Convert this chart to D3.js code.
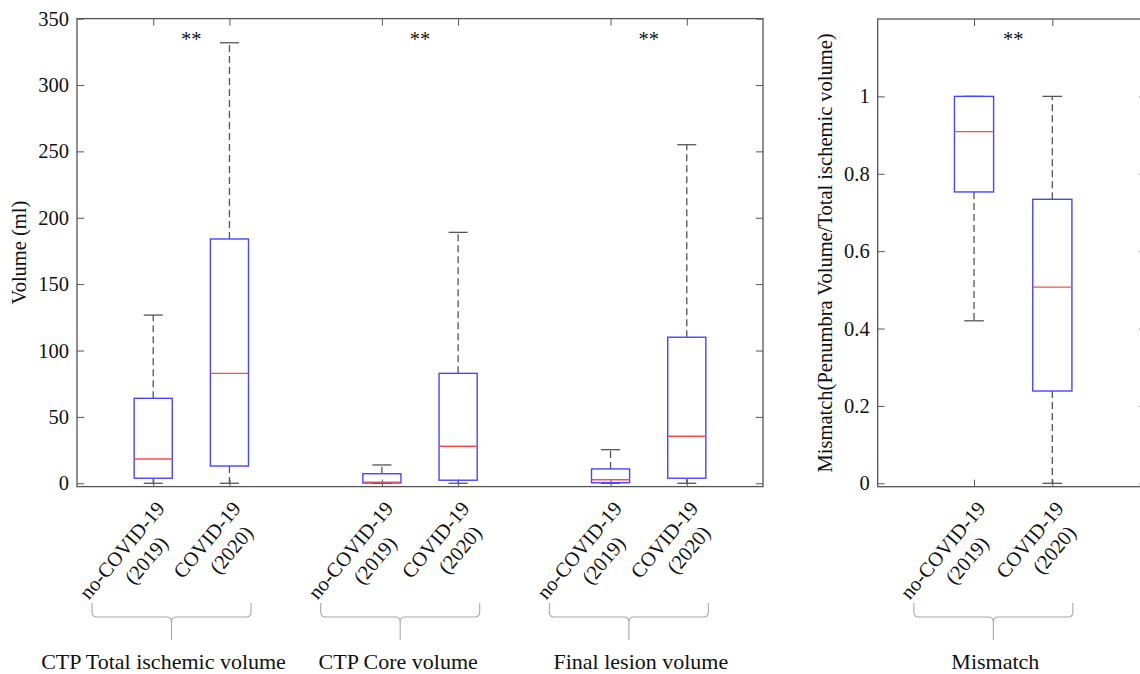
<!DOCTYPE html>
<html>
<head>
<meta charset="utf-8">
<script src="https://cdn.jsdelivr.net/npm/d3@7"></script>
<style>
  body { margin: 0; background: #fff; }
  text { font-family: "Liberation Serif", "Times New Roman", serif; fill: #111; }
</style>
</head>
<body>
<svg id="chart" width="1140" height="674"></svg>
<script>
// data: [lower whisker, q1, median, q3, upper whisker]
const categoryLines = [["no-COVID-19", "(2019)"], ["COVID-19", "(2020)"]];
const volumeGroups = ["CTP Total ischemic volume", "CTP Core volume", "Final lesion volume"];
const ctpTotalStats = [[0, 3.8, 18.3, 64, 126.7], [0, 13, 82.8, 184, 331.8]];
const ctpCoreStats = [[0, 0.2, 0.9, 7.2, 13.8], [0, 2.3, 27.9, 82.8, 189]];
const finalLesionStats = [[0, 0.4, 2.7, 10.8, 25.3], [0, 3.8, 35.4, 110, 255]];
const mismatchGroup = "Mismatch";
const mismatchStats = [[0.42, 0.753, 0.909, 1.0, 1.0], [0, 0.2385, 0.507, 0.734, 1.0]];
const volumeTicks = [0, 50, 100, 150, 200, 250, 300, 350];
const mismatchTicks = [0, 0.2, 0.4, 0.6, 0.8, 1];
const volumeSignificance = ["**", "**", "**"];
const mismatchSignificance = "**";

const svg = d3.select("#chart");
const frameColor = "#555";
const boxColor = "#4646ff";
const medianColor = "#ff4a4a";
const whiskerColor = "#555";
const fontSize = 20.5;

const labelShift = [-8, -2, 12, 2];

function drawPanel(opts) {
  const { x, y, groups, stats, ticks, tickFmt, yLabel, yLabelX, stars, shiftOffset } = opts;
  const g = svg.append("g");
  const [x0, x1] = x.range();
  const [yb, yt] = y.range();

  // boxes position: group i, category j -> 3i + j + 1
  const boxes = [];
  stats.forEach((grp, i) =>
    grp.forEach((s, j) => boxes.push({ pos: 3 * i + j + 1, s, j }))
  );

  // ticks
  g.append("g").attr("transform", `translate(${x0},0)`)
    .call(d3.axisLeft(y).tickValues(ticks).tickSize(-7).tickPadding(8).tickFormat(tickFmt))
    .call(a => a.select(".domain").remove())
    .call(a => a.selectAll("line").attr("stroke", frameColor))
    .call(a => a.selectAll("text").attr("font-size", fontSize)
      .attr("font-family", "Liberation Serif, serif").attr("fill", "#111"));
  g.append("g").attr("transform", `translate(${x1},0)`)
    .call(d3.axisRight(y).tickValues(ticks).tickSize(-7).tickFormat(""))
    .call(a => a.select(".domain").remove())
    .call(a => a.selectAll("line").attr("stroke", frameColor));
  const positions = boxes.map(b => b.pos);
  g.append("g").attr("transform", `translate(0,${yt})`)
    .call(d3.axisTop(x).tickValues(positions).tickSize(-7).tickFormat(""))
    .call(a => a.select(".domain").remove())
    .call(a => a.selectAll("line").attr("stroke", frameColor));
  g.append("g").attr("transform", `translate(0,${yb})`)
    .call(d3.axisBottom(x).tickValues(positions).tickSize(-7).tickFormat(""))
    .call(a => a.select(".domain").remove())
    .call(a => a.selectAll("line").attr("stroke", frameColor));

  // frame
  g.append("rect")
    .attr("x", x0).attr("y", yt)
    .attr("width", x1 - x0).attr("height", yb - yt)
    .attr("fill", "none").attr("stroke", frameColor).attr("stroke-width", 1.3);

  const bw = x(0.5) - x(0);
  const cw = x(0.25) - x(0);

  boxes.forEach(b => {
    const [lo, q1, med, q3, hi] = b.s;
    const cx = x(b.pos);
    g.append("line").attr("x1", cx).attr("x2", cx).attr("y1", y(q3)).attr("y2", y(hi))
      .attr("stroke", whiskerColor).attr("stroke-width", 1.3).attr("stroke-dasharray", "7,4");
    g.append("line").attr("x1", cx).attr("x2", cx).attr("y1", y(q1)).attr("y2", y(lo))
      .attr("stroke", whiskerColor).attr("stroke-width", 1.3).attr("stroke-dasharray", "7,4");
    [lo, hi].forEach(v => {
      g.append("line").attr("x1", cx - cw / 2).attr("x2", cx + cw / 2)
        .attr("y1", y(v)).attr("y2", y(v))
        .attr("stroke", whiskerColor).attr("stroke-width", 1.3);
    });
    g.append("rect")
      .attr("x", cx - bw / 2).attr("y", y(q3))
      .attr("width", bw).attr("height", Math.max(0.5, y(q1) - y(q3)))
      .attr("fill", "none").attr("stroke", boxColor).attr("stroke-width", 1.4);
    g.append("line").attr("x1", cx - bw / 2).attr("x2", cx + bw / 2)
      .attr("y1", y(med)).attr("y2", y(med))
      .attr("stroke", medianColor).attr("stroke-width", 1.4);

    // rotated two-line category label
    const lines = categoryLines[b.j];
    const lg = svg.append("g")
      .attr("transform", `translate(${cx + 12.5},${509}) rotate(-50)`);
    const t1 = lg.append("text").attr("text-anchor", "end")
      .attr("font-size", fontSize).text(lines[0]);
    const w1 = t1.node().getComputedTextLength();
    lg.append("text").attr("text-anchor", "middle")
      .attr("x", -w1 / 2 + 8).attr("y", 25)
      .attr("font-size", fontSize).text(lines[1]);
  });

  // significance stars
  stats.forEach((grp, i) => {
    g.append("text").attr("x", x(3 * i + 1.5)).attr("y", 46)
      .attr("text-anchor", "middle").attr("font-size", fontSize)
      .attr("fill", "#222").text(stars[i]);
  });

  // braces and group names
  groups.forEach((name, i) => {
    const c = x(3 * i + 1.5) - 19.8;
    const L = c - 79.5, R = c + 79.5;
    const path = `M${L},603 V612 Q${L},617 ${L + 5},617 H${c - 5} Q${c},617 ${c},622 V640` +
      ` M${c},622 Q${c},617 ${c + 5},617 H${R - 5} Q${R},617 ${R},612 V603`;
    svg.append("path").attr("d", path).attr("fill", "none")
      .attr("stroke", "#a8a8a8").attr("stroke-width", 1.1);
    svg.append("text").attr("x", c + labelShift[shiftOffset + i]).attr("y", 669)
      .attr("text-anchor", "middle").attr("font-size", 22).text(name);
  });

  // y label
  svg.append("text")
    .attr("transform", `translate(${yLabelX},${(yt + yb) / 2}) rotate(-90)`)
    .attr("text-anchor", "middle").attr("font-size", fontSize).text(yLabel);
}

drawPanel({
  x: d3.scaleLinear([0, 9], [77, 763]),
  y: d3.scaleLinear([-2.5, 350], [486.6, 18.6]),
  groups: volumeGroups,
  stats: [ctpTotalStats, ctpCoreStats, finalLesionStats],
  ticks: volumeTicks,
  tickFmt: d3.format("d"),
  yLabel: "Volume (ml)",
  yLabelX: 26,
  stars: volumeSignificance,
  shiftOffset: 0
});

drawPanel({
  x: d3.scaleLinear([-0.23, 3.2], [877.7, 1146.3]),
  y: d3.scaleLinear([-0.0088, 1.2], [486.7, 19.0]),
  groups: [mismatchGroup],
  stats: [mismatchStats],
  ticks: mismatchTicks,
  tickFmt: d => (d === 0 || d === 1) ? String(d) : d3.format(".1f")(d),
  yLabel: "Mismatch(Penumbra Volume/Total ischemic volume)",
  yLabelX: 832,
  stars: [mismatchSignificance],
  shiftOffset: 3
});
</script>
</body>
</html>
